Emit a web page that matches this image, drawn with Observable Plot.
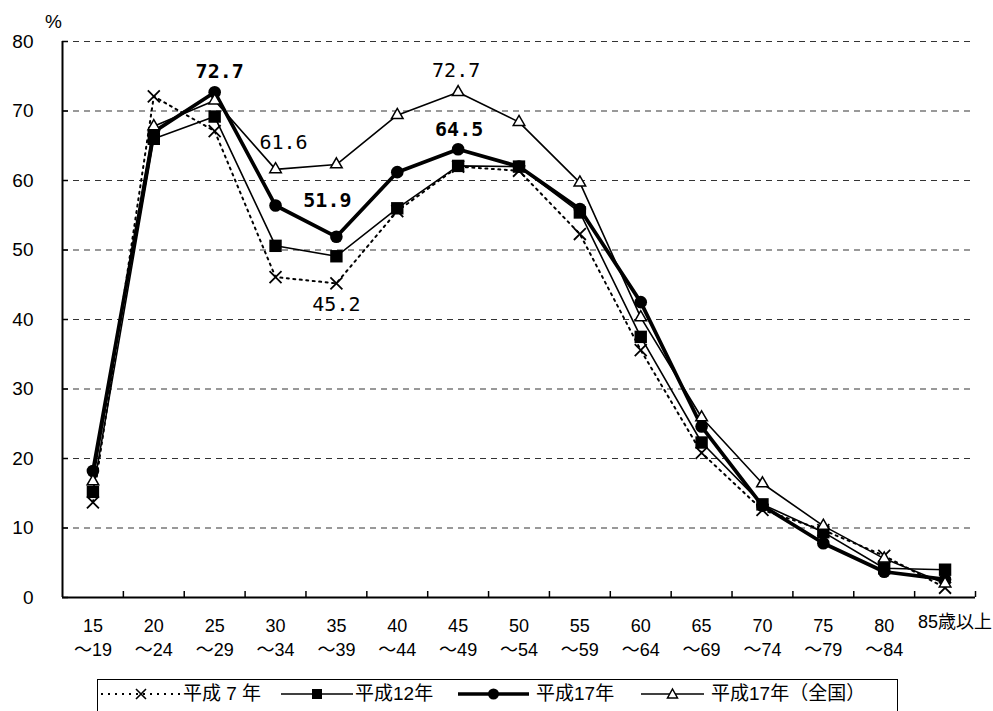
<!DOCTYPE html>
<html><head><meta charset="utf-8">
<script src="https://cdn.jsdelivr.net/npm/d3@7"></script>
<script src="https://cdn.jsdelivr.net/npm/@observablehq/plot@0.6"></script>
<style>
html,body{margin:0;padding:0;background:#fff;}
body{width:993px;height:711px;position:relative;overflow:hidden;font-family:"Liberation Sans","Noto Sans CJK JP",sans-serif;}
#chart svg{display:block;}
g[aria-label="anno"] text{letter-spacing:-1px;}
#legend{position:absolute;left:97px;top:679px;width:801px;height:44px;border:1.5px solid #000;box-sizing:border-box;background:#fff;}
#legend .it{position:absolute;top:0;height:28px;display:flex;align-items:center;}
#legend .tx{position:absolute;top:0;height:28px;line-height:28px;font-size:19px;font-family:"Liberation Sans","Noto Sans CJK JP",sans-serif;white-space:pre;color:#000;}
</style>
</head><body>
<div id="chart"></div>
<div id="legend"></div>
<script>
// ---- data ----
const ageLabels = ["15\n～19","20\n～24","25\n～29","30\n～34","35\n～39","40\n～44","45\n～49","50\n～54","55\n～59","60\n～64","65\n～69","70\n～74","75\n～79","80\n～84","85歳以上"];
const heisei7  = [13.7, 72.1, 67.1, 46.1, 45.2, 55.6, 62.0, 61.4, 52.3, 35.6, 20.8, 12.6, 9.7, 6.0, 1.4];
const heisei12 = [15.2, 66.0, 69.2, 50.6, 49.1, 56.0, 62.1, 62.0, 55.4, 37.5, 22.3, 13.4, 9.4, 4.2, 4.0];
const heisei17 = [18.2, 67.0, 72.7, 56.4, 51.9, 61.2, 64.5, 62.0, 55.9, 42.5, 24.6, 13.2, 7.8, 3.7, 2.6];
const zenkoku17 = [16.7, 67.8, 71.5, 61.6, 62.3, 69.4, 72.7, 68.4, 59.7, 40.3, 25.9, 16.4, 10.3, 5.6, 2.0];
const seriesNames = ["平成 7 年", "平成12年", "平成17年", "平成17年（全国）"];
const yTicks = [0, 10, 20, 30, 40, 50, 60, 70, 80];
const yUnit = "%";
// annotated points: [series index, age index]
const annoSeries = [2, 3, 2, 0, 3, 2];
const annoAge    = [2, 3, 4, 4, 6, 6];

// ---- build ----
const allSeries = [heisei7, heisei12, heisei17, zenkoku17];
const n = ageLabels.length;
const idx = d3.range(n);
const rows = vals => vals.map((v, i) => ({i, v}));
const xDomain = [-0.5, n - 0.5];
const boundaries = idx.map(i => i + 0.5);

const annoStyle = [
  {dx: 5, dy: -21, bold: true},
  {dx: 8, dy: -27, bold: false},
  {dx: -9, dy: -36, bold: true},
  {dx: 0, dy: 21, bold: false},
  {dx: -2, dy: -22, bold: false},
  {dx: 1, dy: -20, bold: true}
];
const annoMarks = annoSeries.map((s, k) => {
  const i = annoAge[k];
  const v = allSeries[s][i];
  const st = annoStyle[k];
  return Plot.text([{i, v}], {
    x: "i", y: "v", text: d => d.v.toFixed(1),
    dx: st.dx, dy: st.dy, fontSize: 20,
    fontWeight: st.bold ? "bold" : "normal",
    fontFamily: "DejaVu Sans Mono", fill: "#000", ariaLabel: "anno"
  });
});

const chart = Plot.plot({
  width: 993, height: 672,
  marginLeft: 62, marginRight: 18, marginTop: 41, marginBottom: 75,
  style: {fontFamily: "'Liberation Sans','Noto Sans CJK JP',sans-serif", fontSize: "18px", color: "#000", background: "#fff"},
  x: {domain: xDomain, axis: null},
  y: {domain: [0, 80], axis: null},
  marks: [
    Plot.gridY(yTicks.filter(t => t > 0), {stroke: "#000", strokeOpacity: 0.8, strokeWidth: 1, strokeDasharray: "6,5"}),
    Plot.axisY(yTicks, {label: null, tickSize: 0, tickPadding: 29, fontSize: 19, tickFormat: d => String(d)}),
    Plot.axisY(yTicks, {label: null, tickSize: 6, dx: 6, strokeWidth: 1.5, tickFormat: () => ""}),
    Plot.axisX(boundaries, {label: null, tickSize: 6, dy: -6, strokeWidth: 1.5, tickFormat: () => ""}),
    Plot.axisX(idx.slice(0, n - 1), {label: null, tickSize: 0, tickPadding: 18, fontSize: 18, lineHeight: 1.33, tickFormat: i => ageLabels[i]}),
    Plot.axisX(idx.slice(n - 1), {label: null, tickSize: 0, tickPadding: 18, fontSize: 18, dx: 10, tickFormat: i => ageLabels[i]}),
    Plot.ruleY([0], {stroke: "#000", strokeWidth: 2}),
    Plot.ruleX([xDomain[0]], {stroke: "#000", strokeWidth: 2}),
    Plot.text([yUnit], {frameAnchor: "top-left", text: d => d, dx: -9, dy: -27, textAnchor: "middle", lineAnchor: "top", fontSize: 19, fill: "#000"}),
    // 平成7年
    Plot.line(rows(heisei7), {x: "i", y: "v", stroke: "#000", strokeWidth: 2, strokeDasharray: "2,4.5"}),
    Plot.dot(rows(heisei7), {x: "i", y: "v", symbol: "times", r: 5.5, stroke: "#000", strokeWidth: 1.8}),
    // 平成12年
    Plot.line(rows(heisei12), {x: "i", y: "v", stroke: "#000", strokeWidth: 1.6}),
    Plot.dot(rows(heisei12), {x: "i", y: "v", symbol: "square", r: 7, fill: "#000", stroke: "none"}),
    // 平成17年
    Plot.line(rows(heisei17), {x: "i", y: "v", stroke: "#000", strokeWidth: 3.7}),
    Plot.dot(rows(heisei17), {x: "i", y: "v", symbol: "circle", r: 6.3, fill: "#000", stroke: "none"}),
    // 平成17年（全国）
    Plot.line(rows(zenkoku17), {x: "i", y: "v", stroke: "#000", strokeWidth: 1.6}),
    Plot.dot(rows(zenkoku17), {x: "i", y: "v", symbol: "triangle", r: 4.3, fill: "#fff", stroke: "#000", strokeWidth: 1.5}),
    ...annoMarks
  ]
});
document.getElementById("chart").appendChild(chart);

// ---- legend ----
const legendItems = [
  {sym: 0, left: 3, w: 80, tx: 85},
  {sym: 1, left: 183, w: 72, tx: 257},
  {sym: 2, left: 360, w: 71, tx: 438},
  {sym: 3, left: 543, w: 63, tx: 613}
];
const symSvg = (k, w) => {
  const c = w / 2, y = 14;
  if (k === 0) return `<svg width="${w}" height="28"><line x1="0" x2="${w}" y1="${y}" y2="${y}" stroke="#000" stroke-width="2" stroke-dasharray="2,5"/><path d="M${c-5},${y-5}L${c+5},${y+5}M${c-5},${y+5}L${c+5},${y-5}" stroke="#000" stroke-width="1.6"/></svg>`;
  if (k === 1) return `<svg width="${w}" height="28"><line x1="0" x2="${w}" y1="${y}" y2="${y}" stroke="#000" stroke-width="1.6"/><rect x="${c-5}" y="${y-5}" width="10" height="10" fill="#000"/></svg>`;
  if (k === 2) return `<svg width="${w}" height="28"><line x1="0" x2="${w}" y1="${y}" y2="${y}" stroke="#000" stroke-width="3.5"/><circle cx="${c}" cy="${y}" r="5.5" fill="#000"/></svg>`;
  return `<svg width="${w}" height="28"><line x1="0" x2="${w}" y1="${y}" y2="${y}" stroke="#000" stroke-width="1.6"/><path d="M${c},${y-5}L${c+5},${y+4}L${c-5},${y+4}Z" fill="#fff" stroke="#000" stroke-width="1.5"/></svg>`;
};
const legend = document.getElementById("legend");
legendItems.forEach((it, k) => {
  const s = document.createElement("div");
  s.className = "it"; s.style.left = it.left + "px";
  s.innerHTML = symSvg(it.sym, it.w);
  legend.appendChild(s);
  const t = document.createElement("div");
  t.className = "tx"; t.style.left = it.tx + "px";
  t.textContent = seriesNames[k];
  legend.appendChild(t);
});
</script>
</body></html>
